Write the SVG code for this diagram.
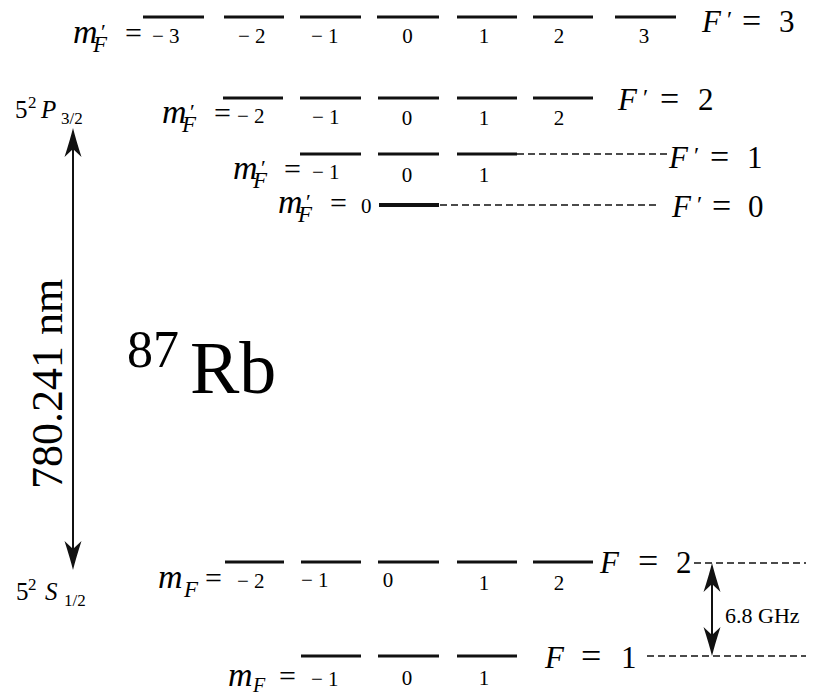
<svg xmlns="http://www.w3.org/2000/svg" width="815" height="694" viewBox="0 0 815 694">
<defs>
<marker id="ah" markerUnits="userSpaceOnUse" viewBox="-31 -10 32 20" refX="-4" refY="0" markerWidth="32" markerHeight="20" orient="auto-start-reverse">
<path d="M0,0 Q-12,-3 -29,-8.5 L-21,0 L-29,8.5 Q-12,3 0,0 Z" fill="#111"/>
</marker>
</defs>

<g id="connectors">
<path d="M73,132 V566" stroke="#111" stroke-width="2" fill="none" marker-start="url(#ah)" marker-end="url(#ah)"/>
<path d="M712,567 V652" stroke="#111" stroke-width="2" fill="none" marker-start="url(#ah)" marker-end="url(#ah)"/>
<g stroke="#111" stroke-width="1.6" stroke-dasharray="7 4">
<line x1="517" y1="154" x2="667" y2="154"/>
<line x1="440" y1="205" x2="657" y2="205"/>
<line x1="694" y1="563" x2="806" y2="563"/>
<line x1="647" y1="656" x2="806" y2="656"/>
</g>
<text font-family="Times New Roman" x="725" y="623" font-size="22">6.8 GHz</text>
<text font-family="Times New Roman" transform="translate(62,384) rotate(-90)" x="0" y="0" font-size="44" text-anchor="middle">780.241 nm</text>
</g>

<g id="title">
<text font-family="Times New Roman" x="127" y="367" font-size="52">87</text>
<text font-family="Times New Roman" x="190" y="393" font-size="74">Rb</text>
</g>

<g id="term-P">
<text font-family="Times New Roman" font-size="25" x="15" y="118">5</text>
<text font-family="Times New Roman" font-size="17" x="28" y="108">2</text>
<text font-family="Times New Roman" font-style="italic" font-size="25" x="41" y="118">P</text>
<text font-family="Times New Roman" font-size="17" x="61" y="124">3/2</text>
</g>

<g id="term-S">
<text font-family="Times New Roman" font-size="25" x="16" y="600">5</text>
<text font-family="Times New Roman" font-size="17" x="28" y="590">2</text>
<text font-family="Times New Roman" font-style="italic" font-size="25" x="45" y="600">S</text>
<text font-family="Times New Roman" font-size="17" x="64" y="606">1/2</text>
</g>

<g id="level-Fp3">
<g stroke="#111" stroke-width="3">
<line x1="143" y1="17" x2="204" y2="17"/>
<line x1="224" y1="17" x2="284" y2="17"/>
<line x1="300" y1="17" x2="361" y2="17"/>
<line x1="377" y1="17" x2="439" y2="17"/>
<line x1="457" y1="17" x2="517" y2="17"/>
<line x1="533" y1="17" x2="593" y2="17"/>
<line x1="615" y1="17" x2="676" y2="17"/>
</g>
<text font-family="Times New Roman" font-style="italic" font-size="34" x="73" y="43">m</text>
<text font-family="Times New Roman" font-size="22" x="101" y="39">′</text>
<text font-family="Times New Roman" font-style="italic" font-size="23" x="93" y="52">F</text>
<text font-family="Times New Roman" font-size="30" x="125" y="43">=</text>
<text font-family="Times New Roman" font-size="21" x="152" y="43">− 3</text>
<text font-family="Times New Roman" font-size="21" x="238" y="43">− 2</text>
<text font-family="Times New Roman" font-size="21" x="311" y="43">− 1</text>
<text font-family="Times New Roman" font-size="21" text-anchor="middle" x="407.5" y="43">0</text>
<text font-family="Times New Roman" font-size="21" text-anchor="middle" x="484" y="43">1</text>
<text font-family="Times New Roman" font-size="21" text-anchor="middle" x="559" y="43">2</text>
<text font-family="Times New Roman" font-size="21" text-anchor="middle" x="644" y="43">3</text>
<text font-family="Times New Roman" font-style="italic" font-size="31" x="702" y="32">F</text>
<text font-family="Times New Roman" font-size="24" x="727" y="27">′</text>
<text font-family="Times New Roman" font-size="34" x="742" y="32">=</text>
<text font-family="Times New Roman" font-size="31" x="779" y="32">3</text>
</g>

<g id="level-Fp2">
<g stroke="#111" stroke-width="3">
<line x1="223" y1="98" x2="283" y2="98"/>
<line x1="300" y1="98" x2="361" y2="98"/>
<line x1="378" y1="98" x2="439" y2="98"/>
<line x1="457" y1="98" x2="517" y2="98"/>
<line x1="533" y1="98" x2="593" y2="98"/>
</g>
<text font-family="Times New Roman" font-style="italic" font-size="34" x="162" y="123">m</text>
<text font-family="Times New Roman" font-size="22" x="190" y="119">′</text>
<text font-family="Times New Roman" font-style="italic" font-size="23" x="182" y="132">F</text>
<text font-family="Times New Roman" font-size="30" x="214" y="123">=</text>
<text font-family="Times New Roman" font-size="21" x="237" y="123">− 2</text>
<text font-family="Times New Roman" font-size="21" x="312" y="124">− 1</text>
<text font-family="Times New Roman" font-size="21" text-anchor="middle" x="407" y="125">0</text>
<text font-family="Times New Roman" font-size="21" text-anchor="middle" x="484" y="125">1</text>
<text font-family="Times New Roman" font-size="21" text-anchor="middle" x="559" y="125">2</text>
<text font-family="Times New Roman" font-style="italic" font-size="31" x="618" y="110">F</text>
<text font-family="Times New Roman" font-size="24" x="643" y="105">′</text>
<text font-family="Times New Roman" font-size="34" x="660" y="110">=</text>
<text font-family="Times New Roman" font-size="31" x="698" y="110">2</text>
</g>

<g id="level-Fp1">
<g stroke="#111" stroke-width="3">
<line x1="300" y1="154" x2="361" y2="154"/>
<line x1="378" y1="154" x2="439" y2="154"/>
<line x1="457" y1="154" x2="517" y2="154"/>
</g>
<text font-family="Times New Roman" font-style="italic" font-size="34" x="233" y="179">m</text>
<text font-family="Times New Roman" font-size="22" x="261" y="175">′</text>
<text font-family="Times New Roman" font-style="italic" font-size="23" x="253" y="188">F</text>
<text font-family="Times New Roman" font-size="30" x="284" y="179">=</text>
<text font-family="Times New Roman" font-size="21" x="312" y="179">− 1</text>
<text font-family="Times New Roman" font-size="21" text-anchor="middle" x="407" y="182">0</text>
<text font-family="Times New Roman" font-size="21" text-anchor="middle" x="484" y="182">1</text>
<text font-family="Times New Roman" font-style="italic" font-size="31" x="669" y="168">F</text>
<text font-family="Times New Roman" font-size="24" x="694" y="163">′</text>
<text font-family="Times New Roman" font-size="34" x="710" y="168">=</text>
<text font-family="Times New Roman" font-size="31" x="747" y="168">1</text>
</g>

<g id="level-Fp0">
<line x1="379" y1="205" x2="439" y2="205" stroke="#111" stroke-width="4"/>
<text font-family="Times New Roman" font-style="italic" font-size="34" x="278" y="213">m</text>
<text font-family="Times New Roman" font-size="22" x="306" y="209">′</text>
<text font-family="Times New Roman" font-style="italic" font-size="23" x="298" y="222">F</text>
<text font-family="Times New Roman" font-size="30" x="330" y="213">=</text>
<text font-family="Times New Roman" font-size="21" x="361" y="213">0</text>
<text font-family="Times New Roman" font-style="italic" font-size="31" x="672" y="217">F</text>
<text font-family="Times New Roman" font-size="24" x="697" y="212">′</text>
<text font-family="Times New Roman" font-size="34" x="712" y="217">=</text>
<text font-family="Times New Roman" font-size="31" x="748" y="217">0</text>
</g>

<g id="level-F2">
<g stroke="#111" stroke-width="3">
<line x1="225" y1="562" x2="284" y2="562"/>
<line x1="301" y1="562" x2="361" y2="562"/>
<line x1="378" y1="562" x2="439" y2="562"/>
<line x1="457" y1="562" x2="517" y2="562"/>
<line x1="533" y1="562" x2="593" y2="562"/>
</g>
<text font-family="Times New Roman" font-style="italic" font-size="34" x="158" y="588">m</text>
<text font-family="Times New Roman" font-style="italic" font-size="23" x="184" y="597">F</text>
<text font-family="Times New Roman" font-size="30" x="205" y="588">=</text>
<text font-family="Times New Roman" font-size="21" x="237" y="588">− 2</text>
<text font-family="Times New Roman" font-size="21" x="301" y="587">− 1</text>
<text font-family="Times New Roman" font-size="21" text-anchor="middle" x="388" y="587">0</text>
<text font-family="Times New Roman" font-size="21" text-anchor="middle" x="484" y="590">1</text>
<text font-family="Times New Roman" font-size="21" text-anchor="middle" x="559" y="590">2</text>
<text font-family="Times New Roman" font-style="italic" font-size="31" x="600" y="573">F</text>
<text font-family="Times New Roman" font-size="36" x="638" y="573">=</text>
<text font-family="Times New Roman" font-size="31" x="676" y="573">2</text>
</g>

<g id="level-F1">
<g stroke="#111" stroke-width="3">
<line x1="301" y1="656" x2="361" y2="656"/>
<line x1="378" y1="656" x2="439" y2="656"/>
<line x1="457" y1="656" x2="517" y2="656"/>
</g>
<text font-family="Times New Roman" font-style="italic" font-size="34" x="228" y="686">m</text>
<text font-family="Times New Roman" font-style="italic" font-size="20" x="253" y="692">F</text>
<text font-family="Times New Roman" font-size="30" x="279" y="686">=</text>
<text font-family="Times New Roman" font-size="21" x="311" y="686">− 1</text>
<text font-family="Times New Roman" font-size="21" text-anchor="middle" x="407" y="685">0</text>
<text font-family="Times New Roman" font-size="21" text-anchor="middle" x="484" y="685">1</text>
<text font-family="Times New Roman" font-style="italic" font-size="31" x="545" y="668">F</text>
<text font-family="Times New Roman" font-size="36" x="581" y="668">=</text>
<text font-family="Times New Roman" font-size="31" x="621" y="668">1</text>
</g>
</svg>
